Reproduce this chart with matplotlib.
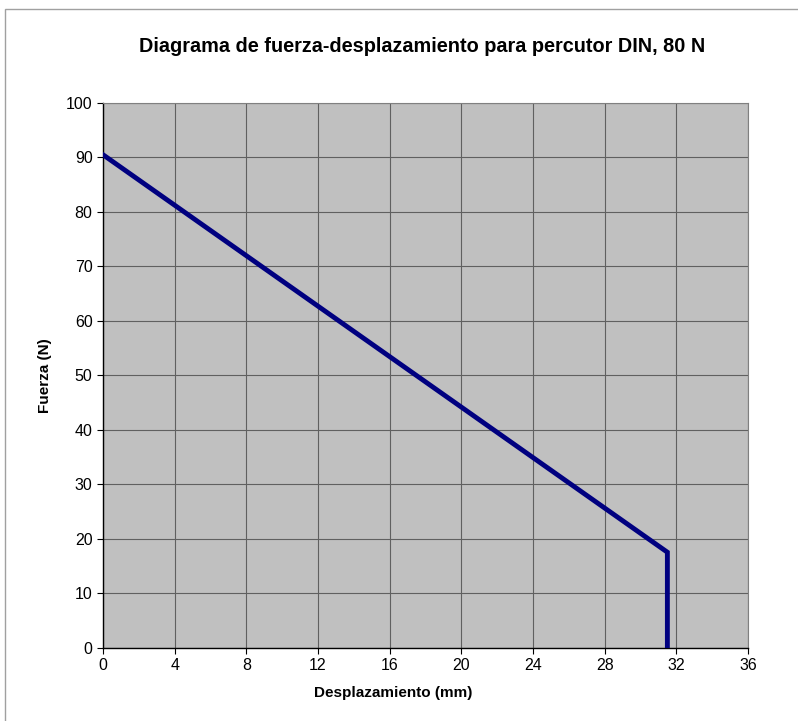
import matplotlib
matplotlib.use('Agg')
import matplotlib.pyplot as plt
from matplotlib.patches import Rectangle

desplazamiento = [0, 31.5, 31.5]
fuerza = [90.5, 17.5, 0]

x_ticks = [0, 4, 8, 12, 16, 20, 24, 28, 32, 36]
y_ticks = [0, 10, 20, 30, 40, 50, 60, 70, 80, 90, 100]

plt.rcParams['font.family'] = ['Liberation Sans', 'DejaVu Sans']


def main():
    fig = plt.figure(figsize=(7.98, 7.21), dpi=100)
    fig.patch.set_facecolor('white')

    # outer chart border (Excel style)
    fig.patches.append(Rectangle((5 / 798, -0.05), 1.2, (721 - 9) / 721 + 0.05,
                                 transform=fig.transFigure, fill=False,
                                 edgecolor='#a0a0a0', linewidth=1.0))

    ax = fig.add_axes([103 / 798, 73.5 / 721, 645 / 798, 544.5 / 721])
    ax.set_facecolor('#c0c0c0')

    ax.plot(desplazamiento, fuerza, color='#000080', linewidth=3.5,
            solid_joinstyle='miter', zorder=3)

    ax.set_xlim(0, 36)
    ax.set_ylim(0, 100)
    ax.set_xticks(x_ticks)
    ax.set_yticks(y_ticks)
    ax.tick_params(labelsize=11.5, length=4, color='black', direction='out')

    ax.grid(True, color='#606060', linewidth=0.8)
    ax.set_axisbelow(True)

    for side in ('top', 'right'):
        ax.spines[side].set_color('#808080')
        ax.spines[side].set_linewidth(0.8)
    for side in ('left', 'bottom'):
        ax.spines[side].set_color('black')
        ax.spines[side].set_linewidth(1.0)

    fig.text(393 / 798, 1 - 693 / 721, 'Desplazamiento (mm)',
             ha='center', va='center', fontsize=11, fontweight='bold')
    fig.text(45 / 798, 1 - 376 / 721, 'Fuerza (N)', rotation=90,
             ha='center', va='center', fontsize=11, fontweight='bold')
    fig.text(422 / 798, 1 - 46 / 721,
             'Diagrama de fuerza-desplazamiento para percutor DIN, 80 N',
             ha='center', va='center', fontsize=14.3, fontweight='bold')

    fig.savefig('out.png', dpi=100)


if __name__ == '__main__':
    main()
